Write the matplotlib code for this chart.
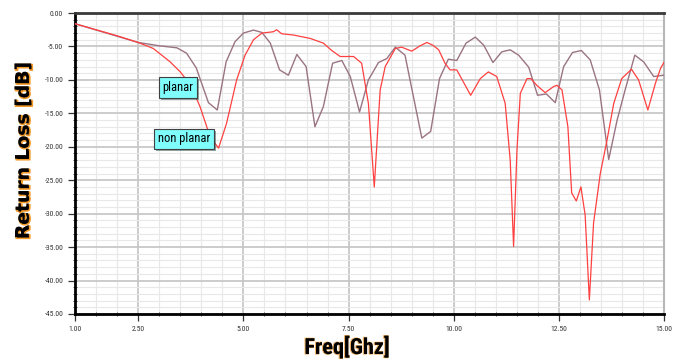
import numpy as np
import matplotlib
matplotlib.use("Agg")
import matplotlib.pyplot as plt
import matplotlib.patheffects as pe
from matplotlib.ticker import MultipleLocator, FixedLocator, FormatStrFormatter

plt.rcParams['axes.unicode_minus'] = False

# planar antenna (mauve trace)
planar_f = [1.0, 1.75, 2.5, 3.0, 3.42, 3.65, 3.88, 4.17, 4.38, 4.59, 4.80, 5.0, 5.24,
            5.44, 5.64, 5.86, 6.07, 6.27, 6.49, 6.70, 6.90, 7.12, 7.34, 7.54, 7.76,
            7.97, 8.21, 8.41, 8.61, 8.84, 9.04, 9.24, 9.45, 9.66, 9.87, 10.07, 10.29,
            10.51, 10.71, 10.93, 11.14, 11.34, 11.54, 11.78, 11.99, 12.2, 12.41, 12.61,
            12.82, 13.03, 13.24, 13.46, 13.68, 13.88, 14.07, 14.30, 14.51, 14.75, 14.98]
planar_db = [-1.6, -3.0, -4.4, -4.9, -5.2, -6.0, -8.2, -13.4, -14.5, -7.3, -4.3, -3.0, -2.55,
             -2.9, -4.5, -8.5, -9.3, -6.2, -8.0, -17.0, -14.0, -7.5, -7.1, -9.5, -14.8,
             -10.0, -7.4, -6.8, -5.1, -6.3, -12.5, -18.7, -17.7, -9.8, -6.9, -7.1, -4.5,
             -3.6, -4.8, -7.4, -5.8, -5.5, -6.3, -8.1, -12.3, -12.1, -13.4, -8.0,
             -5.9, -5.6, -7.0, -11.5, -21.9, -16.0, -11.5, -6.3, -7.3, -9.5, -9.3]

# non planar antenna (red trace)
nonplanar_f = [1.0, 1.5, 2.0, 2.5, 2.86, 3.26, 3.5, 3.75, 3.97, 4.21, 4.41, 4.6, 4.84, 5.04,
               5.24, 5.44, 5.71, 5.79, 5.91, 6.2, 6.59, 6.90, 7.1, 7.30, 7.62, 7.81, 7.97,
               8.11, 8.25, 8.37, 8.61, 8.76, 9.0, 9.2, 9.36, 9.5, 9.64, 9.79, 9.91, 10.07,
               10.40, 10.63, 10.82, 11.02, 11.22, 11.34, 11.42, 11.50, 11.58, 11.74, 11.83,
               11.97, 12.17, 12.37, 12.45, 12.57, 12.71, 12.80, 12.91, 13.02, 13.12, 13.22,
               13.32, 13.48, 13.64, 13.80, 13.99, 14.22, 14.39, 14.61, 14.79, 14.91, 15.0]
nonplanar_db = [-1.6, -2.5, -3.4, -4.4, -5.3, -7.3, -8.8, -10.8, -14.0, -18.5, -20.2, -16.5, -10.0, -6.3,
                -4.0, -3.0, -2.8, -2.5, -3.1, -3.3, -3.8, -4.5, -5.6, -6.5, -6.5, -7.5, -13.5,
                -26.0, -11.5, -8.0, -5.3, -5.1, -5.7, -4.9, -4.4, -4.8, -5.5, -7.5, -8.5, -8.5,
                -12.3, -9.8, -8.8, -9.5, -13.5, -22.0, -34.9, -20.5, -12.0, -9.8, -9.8,
                -10.8, -11.9, -11.0, -10.8, -11.5, -17.0, -26.9, -28.1, -26.0, -30.2, -42.9,
                -31.4, -24.0, -19.0, -13.5, -9.8, -8.4, -10.0, -14.5, -10.5, -8.3, -7.3]

x_ticks = [1.0, 2.5, 5.0, 7.5, 10.0, 12.5, 15.0]

fig = plt.figure(figsize=(6.82, 3.62), dpi=100)
ax = fig.add_axes([0.110, 0.1326, 0.864, 0.8314])

ax.plot(planar_f, planar_db, color='#9a7483', lw=1.0, zorder=3)
ax.plot(nonplanar_f, nonplanar_db, color='#ff4040', lw=0.9, zorder=4)

ax.set_xlim(1, 15)
ax.set_ylim(-45, 0)
ax.xaxis.set_major_locator(FixedLocator(x_ticks))
ax.xaxis.set_minor_locator(MultipleLocator(0.5))
ax.yaxis.set_major_locator(MultipleLocator(5))
ax.yaxis.set_minor_locator(MultipleLocator(1))
ax.xaxis.set_major_formatter(FormatStrFormatter('%.2f'))
ax.yaxis.set_major_formatter(FormatStrFormatter('%.2f'))

ax.grid(which='major', color='#c8c8c8', lw=1.3, zorder=0)
ax.grid(which='minor', color='#e8e8e8', lw=0.8, zorder=0)
ax.set_axisbelow(True)

narrow = ['Liberation Sans Narrow', 'DejaVu Sans Condensed', 'Roboto Condensed', 'DejaVu Sans']
ax.tick_params(which='major', labelsize=5.5, colors='#333333', length=5, width=0.9)
ax.tick_params(which='minor', length=3, width=0.7, direction='inout', colors='#555555')
for lab in ax.get_xticklabels() + ax.get_yticklabels():
    lab.set_family(narrow)

ax.spines['left'].set_linewidth(2)
ax.spines['bottom'].set_linewidth(2)
ax.spines['left'].set_color('black')
ax.spines['bottom'].set_color('black')
ax.spines['top'].set_linewidth(2)
ax.spines['top'].set_color('#3a3a3a')
ax.spines['right'].set_linewidth(1.5)
ax.spines['right'].set_color('#b8b8b8')

box = dict(boxstyle='square,pad=0.3', fc='#7ffcfc', ec='#404040', lw=0.8)
for txt, xx, yy in [('planar', 3.45, -11.1), ('non planar', 3.59, -18.8)]:
    t = ax.text(xx, yy, txt, fontsize=9, family=narrow, ha='center', va='center',
                bbox=box, zorder=6)
    t.get_bbox_patch().set_path_effects([pe.withSimplePatchShadow(offset=(1.5, -1.5), alpha=0.5)])

fig.text(0.034, 0.585, 'Return Loss [dB]', rotation=90, ha='center', va='center',
         fontsize=13.5, fontweight='bold', family='DejaVu Sans',
         path_effects=[pe.Stroke(linewidth=1.2, foreground='#f39c2b', offset=(0.8, -0.8)), pe.Normal()])
fig.text(0.509, 0.04, 'Freq[Ghz]', ha='center', va='center', fontsize=16,
         fontweight='bold', family=narrow,
         path_effects=[pe.Stroke(linewidth=0.8, foreground='#f3b060', offset=(-0.5, 0)), pe.Normal()])

fig.savefig('out.png', dpi=100)
